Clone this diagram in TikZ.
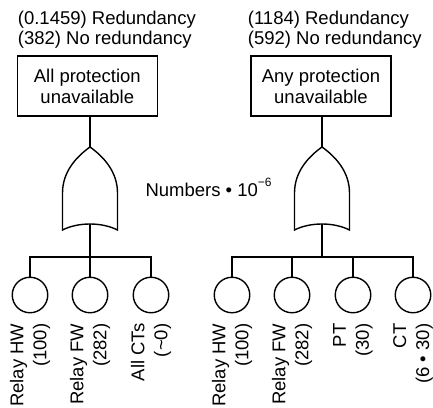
\documentclass[tikz,border=0pt]{standalone}
\usepackage{fontspec}
\setmainfont{Liberation Sans}

\tikzset{
  wire/.style={line width=1.4pt},
  topbox/.style={draw, line width=1.4pt, minimum width=140pt, minimum height=60pt,
    inner sep=0pt, align=center, font=\fontsize{18.5}{21}\selectfont},
  leaf/.style={draw, circle, minimum size=35.5pt, inner sep=0pt, line width=1.4pt},
  leaflabel/.style={rotate=90, anchor=east, align=right, inner sep=0pt,
    font=\fontsize{18.5}{23}\selectfont},
  headline/.style={anchor=base west, inner sep=0pt, font=\fontsize{18.5}{21}\selectfont},
  % OR gate drawn pointing up; (-in) is the tip, (-out) the middle of the curved base
  orgate/.pic={
    \draw[line width=1.4pt]
      (0,0) .. controls (14,10) and (27.5,25) .. (27.5,46) -- (27.5,83)
      .. controls (12,75) and (-12,75) .. (-27.5,83) -- (-27.5,46)
      .. controls (-27.5,25) and (-14,10) .. cycle;
    \coordinate (-in) at (0,0);
    \coordinate (-out) at (0,77);
  }
}

\begin{document}
\begin{tikzpicture}[x=1pt, y=-1pt]
  \useasboundingbox (0,0) rectangle (433,407);

  % ---- left tree: all protection unavailable ----
  \node[headline] (lr1) at (17.7,24) {(0.1459) Redundancy};
  \node[headline] (lr2) at (17.7,44.5) {(382) No redundancy};
  \node[topbox] (ltop) at (87.3,86) {All protection\\unavailable};
  \pic (lg) at (90,147) {orgate};
  \coordinate (lj) at (90,257);
  \node[leaf] (la) at (30,295) {};
  \node[leaf] (lb) at (90,295) {};
  \node[leaf] (lc) at (151,295) {};

  \draw[wire] (ltop.south -| lg-in) -- (lg-in);
  \draw[wire] (lg-out) -- (lj);
  \draw[wire] (lj) -| (la.north);
  \draw[wire] (lj) -- (lb.north);
  \draw[wire] (lj) -| (lc.north);

  \node[leaflabel] (lta) at ([yshift=-10pt]la.south) {Relay HW\\(100)};
  \node[leaflabel] (ltb) at ([yshift=-10pt]lb.south) {Relay FW\\(282)};
  \node[leaflabel] (ltc) at ([yshift=-10pt]lc.south) {All CTs\\(\textasciitilde0)};

  % ---- right tree: any protection unavailable ----
  \node[headline] (rr1) at (247.7,24) {(1184) Redundancy};
  \node[headline] (rr2) at (247.7,44.5) {(592) No redundancy};
  \node[topbox] (rtop) at (321,86) {Any protection\\unavailable};
  \pic (rg) at (322,147) {orgate};
  \coordinate (rj) at (322,257);
  \node[leaf] (ra) at (232,295) {};
  \node[leaf] (rb) at (292,295) {};
  \node[leaf] (rc) at (353,295) {};
  \node[leaf] (rd) at (413,295) {};

  \draw[wire] (rtop.south -| rg-in) -- (rg-in);
  \draw[wire] (rg-out) -- (rj);
  \draw[wire] (rj) -| (ra.north);
  \draw[wire] (rj) -| (rb.north);
  \draw[wire] (rj) -| (rc.north);
  \draw[wire] (rj) -| (rd.north);

  \node[leaflabel] (rta) at ([yshift=-10pt]ra.south) {Relay HW\\(100)};
  \node[leaflabel] (rtb) at ([yshift=-10pt]rb.south) {Relay FW\\(282)};
  \node[leaflabel] (rtc) at ([yshift=-10pt]rc.south) {PT\\(30)};
  \node[leaflabel] (rtd) at ([yshift=-10pt]rd.south) {CT\\(6 • 30)};

  % ---- unit note ----
  \node[headline] (unit) at (145.3,196.7)
    {Numbers • 10\raisebox{10pt}{\fontsize{12}{12}\selectfont −6}};
\end{tikzpicture}
\end{document}
